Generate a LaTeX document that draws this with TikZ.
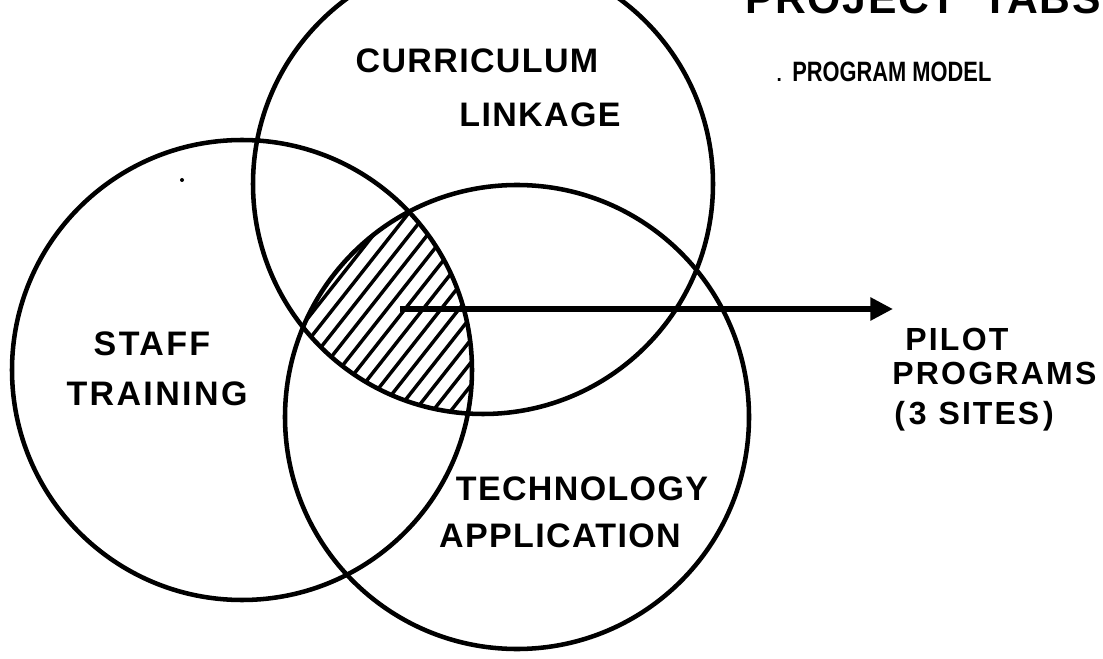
\documentclass[tikz,border=0pt]{standalone}
\usepackage{fontspec}
\usepackage{graphicx}
\usetikzlibrary{arrows.meta}
\newfontfamily\labfont[LetterSpace=4]{Liberation Sans}
\newfontfamily\labfontw[LetterSpace=7]{Liberation Sans}
\newfontfamily\plainfont{Liberation Sans}
\tikzset{
  ring/.style={draw, circle, line width=3.4pt, inner sep=0pt},
  hatchline/.style={line width=2.6pt},
  arrowline/.style={line width=4.4pt, -{Triangle[length=17pt,width=16.5pt]}},
  lbl/.style={font=\labfont\bfseries\fontsize{25.5}{30}\selectfont, anchor=base, inner sep=0pt},
  lblw/.style={font=\labfontw\bfseries\fontsize{25.5}{30}\selectfont, anchor=base, inner sep=0pt},
  lblr/.style={font=\labfontw\bfseries\fontsize{24}{28}\selectfont, anchor=base west, inner sep=0pt},
  subtitle/.style={font=\plainfont\bfseries\fontsize{21}{24}\selectfont, anchor=base west, inner sep=0pt},
  titletext/.style={font=\labfont\bfseries\fontsize{32}{36}\selectfont, anchor=base west, inner sep=0pt},
  speck/.style={fill=black, circle, inner sep=0pt, minimum size=3pt}
}
\begin{document}
\begin{tikzpicture}[x=0.75pt,y=-0.75pt]
\useasboundingbox (0,0) rectangle (1103,659);
% three circles
\node[ring, minimum size=345pt] (A) at (483,184) {};
\node[ring, minimum size=345pt] (B) at (242,370) {};
\node[ring, minimum size=348pt] (C) at (517,417) {};
% hatched triple intersection
\begin{scope}
  \clip (A.center) circle[radius=230];
  \clip (B.center) circle[radius=230];
  \clip (C.center) circle[radius=232];
  \foreach \k in {0,...,20}{
    \draw[hatchline] (150+\k*18,450) -- ++(260,-330);
  }
\end{scope}
% arrow
\coordinate (s) at (400,309);
\coordinate (e) at (893,309);
\draw[arrowline] (s) -- (e);
% labels
\node[lbl] (cur) at (477,73) {CURRICULUM};
\node[lbl] (lin) at (540,127) {LINKAGE};
\node[lblw] (sta) at (152,355) {STAFF};
\node[lblw] (tra) at (157,405) {TRAINING};
\node[lbl] (tec) at (582,500) {TECHNOLOGY};
\node[lbl] (app) at (560,547) {APPLICATION};
\node[lblr] (pil) at (905,350) {PILOT};
\node[lblr] (pro) at (892,384) {PROGRAMS};
\node[lblr] (sit) at (894,424) {(\hspace{3pt}3\hspace{9pt}S\hspace{1.5pt}I\hspace{1.5pt}T\hspace{1.5pt}E\hspace{1.5pt}S\hspace{3pt})};
\node[subtitle] (mod) at (775,82) {{\mdseries .}\hspace{7pt}\scalebox{0.78}[1]{PROGRAM MODEL}};
\node[titletext] (tit) at (745,14) {PROJECT\hspace{0.6em}TABS};
\node[speck] (d1) at (182,180) {};
\end{tikzpicture}
\end{document}
